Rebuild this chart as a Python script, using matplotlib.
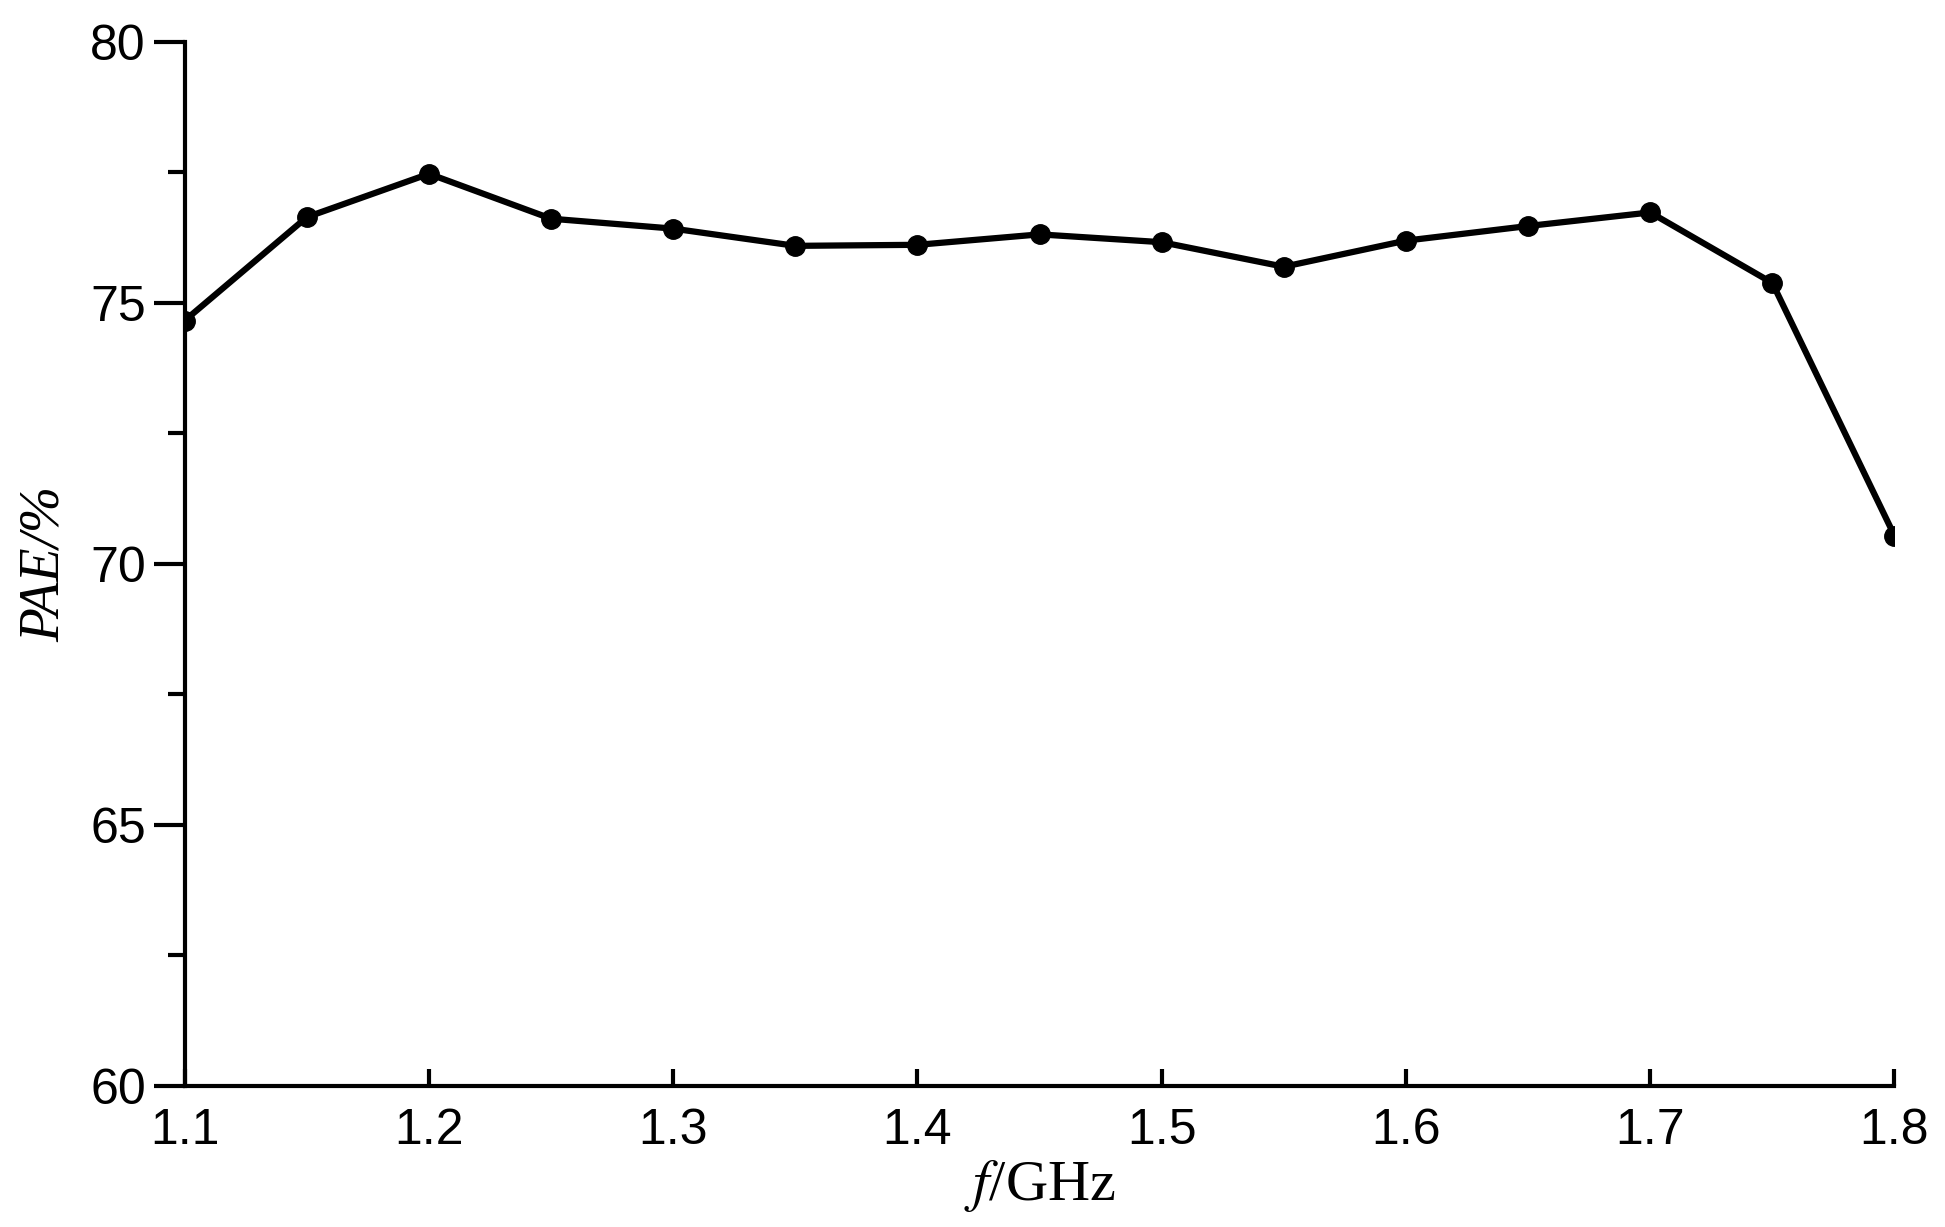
import matplotlib
matplotlib.use("Agg")
import matplotlib.pyplot as plt

freq = [1.1, 1.15, 1.2, 1.25, 1.3, 1.35, 1.4, 1.45, 1.5, 1.55, 1.6, 1.65, 1.7, 1.75, 1.8]
pae = [74.66, 76.64, 77.47, 76.61, 76.42, 76.09, 76.11, 76.31, 76.16, 75.69, 76.19, 76.47, 76.73, 75.38, 70.54]
xticks = [1.1, 1.2, 1.3, 1.4, 1.5, 1.6, 1.7, 1.8]
xlabels = ['1.1', '1.2', '1.3', '1.4', '1.5', '1.6', '1.7', '1.8']
yticks = [60, 65, 70, 75, 80]
yminor = [62.5, 67.5, 72.5, 77.5]

plt.rcParams['mathtext.fontset'] = 'stix'
fig = plt.figure(figsize=(19.45, 12.27), dpi=100)
ax = fig.add_axes([0.095, 0.115, 0.879, 0.851])
ax.plot(freq, pae, '-', color='black', lw=4.5, marker='o', ms=14)

ax.set_xlim(1.1, 1.8)
ax.set_ylim(60, 80)
ax.set_xticks(xticks)
ax.set_xticklabels(xlabels, fontfamily='Liberation Sans', fontsize=36, fontweight='medium')
ax.set_yticks(yticks)
ax.set_yticklabels([str(v) for v in yticks], fontfamily='Liberation Sans', fontsize=36)
ax.set_yticks(yminor, minor=True)
for s in ['top', 'right']:
    ax.spines[s].set_visible(False)
for s in ['left', 'bottom']:
    ax.spines[s].set_linewidth(3)
ax.tick_params(axis='y', which='major', direction='out', length=22, width=3, pad=6)
ax.tick_params(axis='y', which='minor', direction='out', length=12, width=3)
ax.tick_params(axis='x', which='major', direction='in', length=12, width=3, pad=16)

ax.set_xlabel('$f$/GHz', fontfamily='Liberation Serif', fontsize=42, labelpad=2)
ax.set_ylabel('PAE/%', fontfamily='Liberation Serif', fontsize=40, fontstyle='italic', labelpad=14)

fig.savefig('out.png', dpi=100)
